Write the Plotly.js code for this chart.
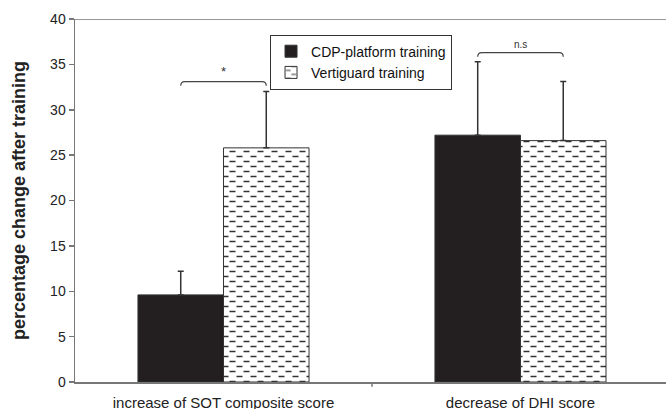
<!DOCTYPE html>
<html>
<head>
<meta charset="utf-8">
<script src="https://cdn.plot.ly/plotly-3.0.1.min.js"></script>
<style>html,body{margin:0;padding:0;background:#fff;}#chart{width:666px;height:409px;}</style>
</head>
<body>
<div id="chart"></div>
<script>
// ---- data ----
const categories = ['increase of SOT composite score', 'decrease of DHI score'];
const categoryPos = [0, 1];
const cdpName = 'CDP-platform training';
const cdpValues = [9.6, 27.2];
const cdpErrors = [2.6, 8.1];
const vgName = 'Vertiguard training';
const vgValues = [25.8, 26.6];
const vgErrors = [6.2, 6.5];
const sigLabels = ['*', 'n.s'];
const sigHeights = [33.1, 36.3];
const yTicks = [0, 5, 10, 15, 20, 25, 30, 35, 40];

const FONT = 'Liberation Sans, Arial, sans-serif';
const barHalf = 0.144;

const traces = [
  {
    type: 'bar', name: cdpName, x: categoryPos, y: cdpValues,
    marker: {color: '#231f20', line: {color: '#333', width: 1}},
    error_y: {type: 'data', symmetric: false, array: cdpErrors, arrayminus: cdpErrors.map(() => 0),
              color: '#333', thickness: 1.5, width: 3}
  },
  {
    type: 'bar', name: vgName, x: categoryPos, y: vgValues,
    marker: {color: '#ffffff', line: {color: '#333', width: 1},
             pattern: {shape: '-', fgcolor: '#333', bgcolor: '#fff', size: 10, solidity: 0.15}},
    error_y: {type: 'data', symmetric: false, array: vgErrors, arrayminus: vgErrors.map(() => 0),
              color: '#333', thickness: 1.5, width: 3}
  }
];

const shapes = [
  // top frame line at y = 40
  {type: 'line', xref: 'paper', yref: 'y', x0: 0, x1: 1, y0: 40, y1: 40, line: {color: '#777', width: 1.5}},
  // category boundary tick
  {type: 'line', xref: 'x', yref: 'paper', x0: 0.5, x1: 0.5, y0: 0, y1: -0.013, line: {color: '#777', width: 1.5}}
];
const annotations = [];
categoryPos.forEach((c, i) => {
  const x0 = c - barHalf, x1 = c + barHalf, y = sigHeights[i];
  const dy = 0.45, dx = 0.014;
  shapes.push({
    type: 'path', xref: 'x', yref: 'y',
    path: `M ${x0},${y - dy} Q ${x0},${y} ${x0 + dx},${y} L ${x1 - dx},${y} Q ${x1},${y} ${x1},${y - dy}`,
    line: {color: '#444', width: 1.2}
  });
  annotations.push({
    xref: 'x', yref: 'y', x: c, y: y, yanchor: 'bottom', showarrow: false,
    text: sigLabels[i], font: {family: FONT, size: i === 0 ? 13 : 10, color: '#333'}, yshift: 1
  });
});

const layout = {
  width: 666, height: 409,
  margin: {l: 75, r: 0, t: 19, b: 27},
  paper_bgcolor: '#fff', plot_bgcolor: '#fff',
  font: {family: FONT, size: 14, color: '#222'},
  barmode: 'group', bargap: 0.424, bargroupgap: 0,
  showlegend: true,
  legend: {x: 0.33, y: 0.957, xanchor: 'left', yanchor: 'top', bgcolor: '#fff',
           bordercolor: '#333', borderwidth: 1, font: {family: FONT, size: 14, color: '#111'},
           itemwidth: 30, tracegroupgap: 0},
  xaxis: {
    type: 'linear', range: [-0.5, 1.49], tickvals: categoryPos, ticktext: categories,
    ticks: '', showline: true, linecolor: '#777', linewidth: 1.5, zeroline: false, showgrid: false,
    tickfont: {family: FONT, size: 15, color: '#222'}, ticklabelstandoff: 6, automargin: false, fixedrange: true
  },
  yaxis: {
    range: [0, 40], tickvals: yTicks, ticktext: yTicks.map(String), ticks: 'outside', ticklen: 5,
    tickcolor: '#777', tickwidth: 1.5, showline: true, linecolor: '#777', linewidth: 1.5,
    zeroline: false, showgrid: false, tickfont: {family: FONT, size: 14, color: '#222'},
    title: {text: '<b>percentage change after training</b>', font: {family: FONT, size: 18, color: '#222'}, standoff: 20},
    automargin: false, fixedrange: true
  },
  shapes: shapes,
  annotations: annotations
};

Plotly.newPlot('chart', traces, layout, {displayModeBar: false, staticPlot: true}).then(() => {
  // restyle the horizontal-line fill pattern into the staggered dash pattern of the reference
  document.querySelectorAll('#chart pattern').forEach(p => {
    p.setAttribute('width', 14);
    p.setAttribute('height', 10);
    const rect = p.querySelector('rect');
    if (rect) { rect.setAttribute('width', 14); rect.setAttribute('height', 10); }
    const path = p.querySelector('path');
    if (path) {
      path.setAttribute('d', 'M0.5,2.5H6.5M7.5,7.5H13.5');
      path.setAttribute('style', 'stroke:#333;stroke-width:1.5;fill:none;opacity:1');
    }
  });
});
</script>
</body>
</html>
